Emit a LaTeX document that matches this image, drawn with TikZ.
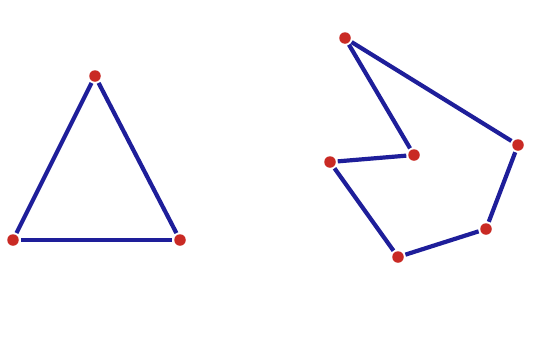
\documentclass[tikz,border=0pt]{standalone}
\usepackage{xcolor}
\usepackage{tikz}
\definecolor{dotred}{HTML}{C92A24}
\definecolor{edgeblue}{HTML}{1E1E9A}
\tikzset{
  vertex/.style={circle, fill=dotred, inner sep=0pt, minimum size=11.5pt, outer sep=2pt},
  edge/.style={draw=edgeblue, line width=4.2pt}
}

\begin{document}
\begin{tikzpicture}[x=1pt, y=-1pt]
    \useasboundingbox[fill=white] (0,0) rectangle (543,362);
    % triangle
    \node[vertex] (ttop) at (95,76) {};
    \node[vertex] (tleft) at (13,240) {};
    \node[vertex] (tright) at (180,240) {};
    \draw[edge] (ttop) -- (tleft);
    \draw[edge] (tleft) -- (tright);
    \draw[edge] (tright) -- (ttop);
    % polygon
    \node[vertex] (ptop) at (345,38) {};
    \node[vertex] (pright) at (518,145) {};
    \node[vertex] (plowright) at (486,229) {};
    \node[vertex] (pbottom) at (398,257) {};
    \node[vertex] (pleft) at (330,162) {};
    \node[vertex] (pinner) at (414,155) {};
    \draw[edge] (ptop) -- (pright);
    \draw[edge] (pright) -- (plowright);
    \draw[edge] (plowright) -- (pbottom);
    \draw[edge] (pbottom) -- (pleft);
    \draw[edge] (pleft) -- (pinner);
    \draw[edge] (pinner) -- (ptop);
  \end{tikzpicture}
\end{document}
